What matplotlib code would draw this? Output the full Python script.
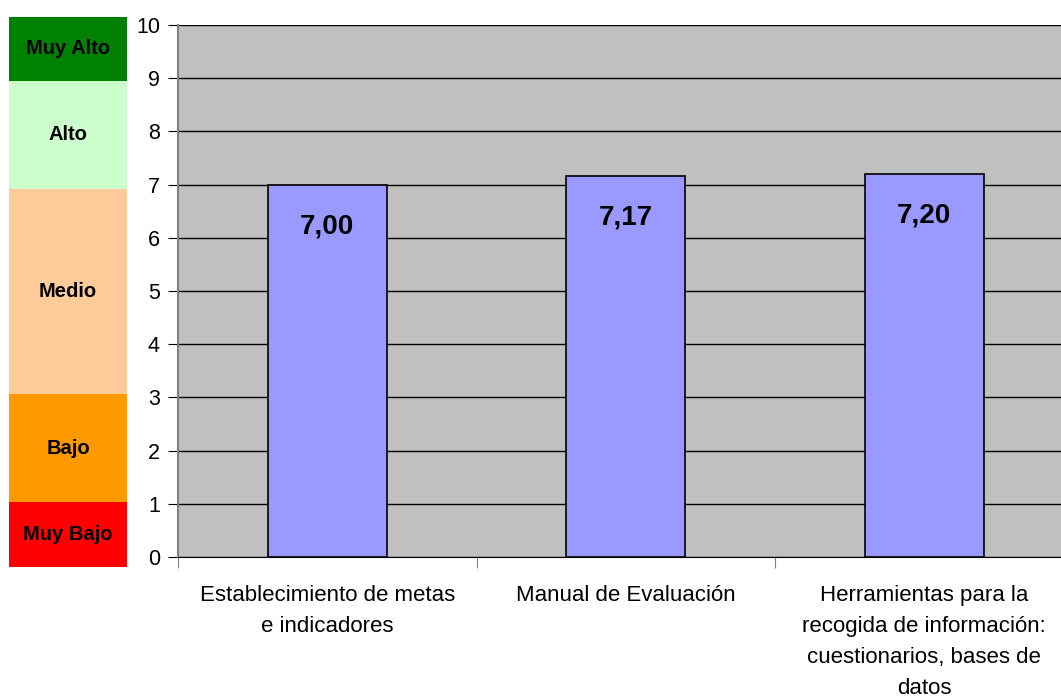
import numpy as np
import matplotlib.pyplot as plt

plt.rcParams['font.family'] = ['Liberation Sans', 'DejaVu Sans']

# data
categorias = ['Establecimiento de metas\ne indicadores',
              'Manual de Evaluación',
              'Herramientas para la\nrecogida de información:\ncuestionarios, bases de\ndatos']
valores = [7.00, 7.17, 7.20]
etiquetas = ['7,00', '7,17', '7,20']

niveles = ['Muy Bajo', 'Bajo', 'Medio', 'Alto', 'Muy Alto']
limites = [-0.19, 1.03, 3.06, 6.92, 8.95, 10.15]
colores_niveles = ['#ff0000', '#ff9900', '#ffcc99', '#ccffcc', '#008000']

fig = plt.figure(figsize=(10.61, 6.97), dpi=100)

# main chart (right edge runs slightly past the image, as in the original)
ax = fig.add_axes([178 / 1061, 1 - 557 / 697, 895.5 / 1061, 532 / 697])
ax.set_facecolor('#c0c0c0')
x = np.arange(len(categorias))
ax.bar(x, valores, width=0.40, color='#9999ff', edgecolor='black', linewidth=1.2, zorder=3)
for xi, v, t in zip(x, valores, etiquetas):
    ax.text(xi, v - 0.78, t, ha='center', va='center', fontsize=20, fontweight='bold', zorder=4)

ax.set_ylim(0, 10)
ax.set_xlim(-0.5, len(categorias) - 0.5)
ax.set_yticks(range(0, 11))
ax.yaxis.grid(True, color='black', linewidth=1)
ax.set_axisbelow(True)
ax.tick_params(axis='y', labelsize=15.5, length=7, color='black', pad=6)

ax.set_xticks(np.arange(len(categorias) + 1) - 0.5, minor=False)
ax.set_xticklabels([])
ax.set_xticks(x, minor=True)
ax.set_xticklabels(categorias, minor=True, fontsize=16, linespacing=1.62)
ax.tick_params(axis='x', which='major', length=8, color='#808080')
ax.tick_params(axis='x', which='minor', length=0, pad=20)

for s in ['top', 'right']:
    ax.spines[s].set_visible(False)
ax.spines['left'].set_color('#808080')
ax.spines['left'].set_linewidth(1.5)
ax.spines['bottom'].set_color('black')

# scale panel
ax2 = fig.add_axes([9 / 1061, 1 - 567 / 697, 118 / 1061, 550 / 697])
ax2.set_xlim(0, 1)
ax2.set_ylim(limites[0], limites[-1])
for i, (nombre, col) in enumerate(zip(niveles, colores_niveles)):
    ax2.bar(0.5, limites[i + 1] - limites[i], bottom=limites[i], width=1, color=col, linewidth=0)
    ax2.text(0.5, (limites[i] + limites[i + 1]) / 2, nombre, ha='center', va='center',
             fontsize=14.5, fontweight='bold')
ax2.axis('off')

fig.savefig('out.png', dpi=100)
